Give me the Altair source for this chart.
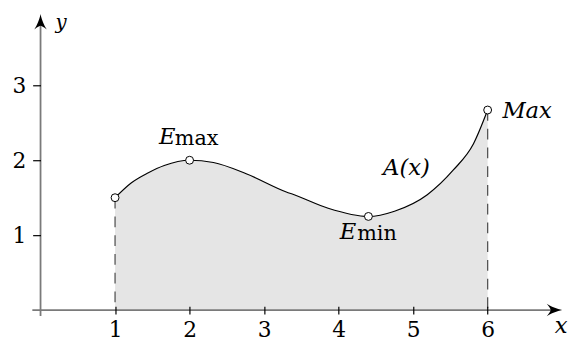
import altair as alt
import pandas as pd

# ---- data ----
curve_x = [1.00, 1.22, 1.44, 1.66, 2.00, 2.32, 2.76, 3.29, 3.43, 3.86, 4.40, 4.75, 5.19, 5.54, 5.81, 6.00]
curve_y = [1.50, 1.70, 1.83, 1.93, 2.00, 1.97, 1.82, 1.58, 1.53, 1.36, 1.25, 1.32, 1.54, 1.87, 2.22, 2.67]

point_x = [1.0, 2.0, 4.4, 6.0]
point_y = [1.5, 2.0, 1.25, 2.67]

x_ticks = [1, 2, 3, 4, 5, 6]
y_ticks = [1, 2, 3]

x_axis_span = [-0.11, 7.0]
y_axis_span = [-0.08, 3.95]

italic_text = ["E", "E", "Max", "A(x)", "x"]
italic_x = [1.700, 4.125, 6.530, 4.910, 6.987]
italic_y = [2.217, 0.947, 2.570, 1.803, -0.303]

sub_text = ["max", "min"]
sub_x = [2.095, 4.515]
sub_y = [2.204, 0.938]

ylabel_text = ["y"]
ylabel_x = [0.275]
ylabel_y = [3.75]

# ---- tables ----
curve = pd.DataFrame({"x": curve_x, "y": curve_y})
pts = pd.DataFrame({"x": point_x, "y": point_y})
drops = pd.DataFrame({"x": [point_x[0], point_x[-1]], "y": [point_y[0], point_y[-1]]})
xaxis_line = pd.DataFrame({"x": [x_axis_span[0]], "x2": [x_axis_span[1] - 0.1], "y": [0.0]})
yaxis_line = pd.DataFrame({"y": [y_axis_span[0]], "y2": [y_axis_span[1] - 0.1], "x": [0.0]})
arrows = pd.DataFrame({"x": [x_axis_span[1], 0.0], "y": [0.0, y_axis_span[1]], "dir": ["right", "up"]})
ital = pd.DataFrame({"t": italic_text, "x": italic_x, "y": italic_y})
subs = pd.DataFrame({"t": sub_text, "x": sub_x, "y": sub_y})
ylab = pd.DataFrame({"t": ylabel_text, "x": ylabel_x, "y": ylabel_y})

SERIF = "DejaVu Serif"
xs = alt.Scale(domain=[0, 7], nice=False, zero=False)
ys = alt.Scale(domain=[0, 4], nice=False, zero=False)

up_path = ("M0,0 C0.1,0.5 0.35,1.2 0.65,1.6 C0.32,1.32 0.1,1.2 0,1.2 "
           "C-0.1,1.2 -0.32,1.32 -0.65,1.6 C-0.35,1.2 -0.1,0.5 0,0 Z")
right_path = ("M0,0 C-0.5,0.1 -1.2,0.35 -1.6,0.65 C-1.32,0.32 -1.2,0.1 -1.2,0 "
              "C-1.2,-0.1 -1.32,-0.32 -1.6,-0.65 C-1.2,-0.35 -0.5,-0.1 0,0 Z")

x_axis = alt.Axis(values=x_ticks, tickSize=8, offset=-4, domain=False, grid=False,
                  tickColor="black", tickWidth=1.2, labelFont=SERIF, labelFontSize=22,
                  labelColor="black", labelPadding=6, title=None, zindex=1, format="d")
y_axis = alt.Axis(values=y_ticks, tickSize=8, domain=False, grid=False,
                  tickColor="black", tickWidth=1.2, labelFont=SERIF, labelFontSize=22,
                  labelColor="black", labelPadding=7, title=None, zindex=1, format="d")

X = alt.X("x:Q", scale=xs, axis=x_axis)
Y = alt.Y("y:Q", scale=ys, axis=y_axis)

area = alt.Chart(curve).mark_area(color="#e5e5e5", interpolate="monotone").encode(
    x=X, y=Y, y2=alt.datum(0),
)

dashed = alt.Chart(drops).mark_rule(color="#555555", strokeWidth=1.3, strokeDash=[11, 8]).encode(
    x=X, y=Y, y2=alt.datum(0),
)

xline = alt.Chart(xaxis_line).mark_rule(color="#7a7a7a", strokeWidth=1.8).encode(
    x=X, x2="x2:Q", y=Y,
)
yline = alt.Chart(yaxis_line).mark_rule(color="#7a7a7a", strokeWidth=1.8).encode(
    y=Y, y2="y2:Q", x=X,
)

heads = alt.Chart(arrows).mark_point(filled=True, color="black", opacity=1, size=380, strokeWidth=0).encode(
    x=X, y=Y,
    shape=alt.Shape("dir:N", scale=alt.Scale(domain=["right", "up"], range=[right_path, up_path]), legend=None),
)

line = alt.Chart(curve).mark_line(color="black", strokeWidth=1.2, interpolate="monotone").encode(
    x=X, y=Y,
)

dots = alt.Chart(pts).mark_point(shape="circle", filled=True, fill="white", stroke="black",
                                 strokeWidth=1, size=64, opacity=1).encode(
    x=X, y=Y,
)

ital_text = alt.Chart(ital).mark_text(font=SERIF, fontSize=23, fontStyle="italic", color="black",
                                      align="center", baseline="alphabetic").encode(
    x=X, y=Y, text="t:N",
)
ylab_text = alt.Chart(ylab).mark_text(font=SERIF, fontSize=20, fontStyle="italic", color="black",
                                      align="center", baseline="alphabetic").encode(
    x=X, y=Y, text="t:N",
)
sub_texts = alt.Chart(subs).mark_text(font=SERIF, fontSize=21, color="black",
                                      align="center", baseline="alphabetic").encode(
    x=X, y=Y, text="t:N",
)

chart = alt.layer(area, dashed, xline, yline, heads, line, dots, ital_text, ylab_text, sub_texts).properties(
    width=529, height=304,
    padding={"left": 33, "top": 0, "right": 12, "bottom": 33},
    autosize=alt.AutoSizeParams(type="none"),
    background="white",
).configure_view(stroke=None)

chart.save("out.html", embed_options={"renderer": "svg", "actions": False})
